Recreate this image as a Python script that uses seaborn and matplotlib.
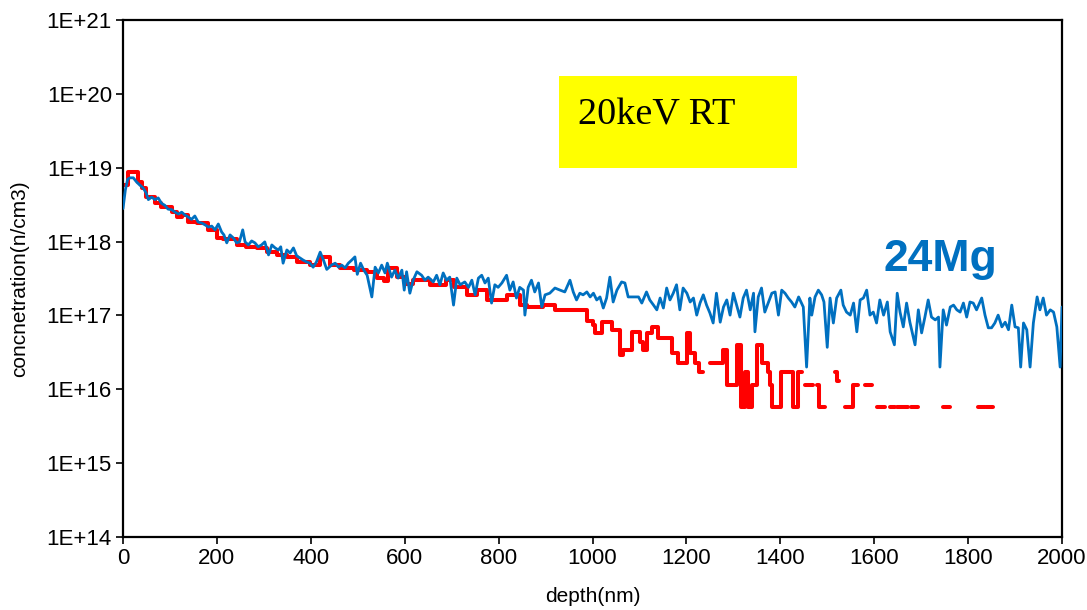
import numpy as np
import pandas as pd
import matplotlib
matplotlib.use("Agg")
import matplotlib.pyplot as plt
from matplotlib.patches import Rectangle
from matplotlib.ticker import FixedLocator, FixedFormatter, NullLocator
import seaborn as sns

# ---------------- data ----------------
blue_depth = [
    0, 5, 10, 15, 22, 29, 36, 43, 49, 54,
    61, 68, 75, 82, 89, 96, 104, 111, 118, 125,
    132, 139, 146, 153, 160, 168, 175, 182, 189, 196,
    203, 210, 215, 221, 228, 235, 242, 248, 255, 260,
    267, 274, 281, 288, 295, 302, 310, 317, 324, 331,
    336, 341, 349, 356, 363, 370, 377, 384, 391, 398,
    405, 412, 420, 427, 434, 444, 452, 459, 466, 473,
    480, 487, 494, 499, 506, 513, 520, 530, 537, 544,
    551, 558, 563, 572, 579, 586, 594, 599, 604, 611,
    618, 626, 636, 643, 650, 661, 668, 675, 682, 689,
    696, 704, 711, 718, 728, 736, 743, 750, 757, 764,
    771, 778, 785, 792, 799, 807, 817, 824, 831, 838,
    845, 853, 856, 863, 870, 877, 885, 892, 899, 909,
    920, 931, 941, 952, 959, 966, 973, 980, 988, 995,
    1002, 1009, 1016, 1023, 1030, 1037, 1044, 1052, 1062, 1069,
    1076, 1087, 1098, 1105, 1115, 1122, 1130, 1137, 1144, 1151,
    1158, 1165, 1172, 1179, 1186, 1193, 1201, 1208, 1215, 1222,
    1229, 1236, 1243, 1250, 1257, 1264, 1272, 1279, 1286, 1293,
    1300, 1307, 1314, 1321, 1328, 1336, 1343, 1346, 1353, 1360,
    1367, 1375, 1382, 1389, 1396, 1403, 1410, 1417, 1424, 1431,
    1439, 1449, 1456, 1463, 1467, 1474, 1481, 1488, 1493, 1500,
    1506, 1513, 1520, 1529, 1534, 1541, 1549, 1556, 1563, 1570,
    1577, 1584, 1591, 1598, 1605, 1612, 1620, 1628, 1634, 1643,
    1649, 1655, 1662, 1669, 1676, 1687, 1694, 1701, 1708, 1715,
    1722, 1730, 1737, 1740, 1747, 1754, 1762, 1769, 1776, 1783,
    1790, 1797, 1804, 1811, 1818, 1829, 1836, 1843, 1850, 1857,
    1864, 1872, 1879, 1886, 1893, 1900, 1907, 1912, 1918, 1925,
    1932, 1939, 1947, 1953, 1960, 1967, 1975, 1982, 1989, 1996,
    2000,
]
blue_conc = [
    2.8e18, 5.0e18, 7.0e18, 7.3e18, 7.3e18, 6.4e18, 5.8e18, 5.3e18, 4.6e18, 3.7e18,
    4.0e18, 3.7e18, 3.9e18, 3.3e18, 3.1e18, 2.75e18, 2.7e18, 2.5e18, 2.36e18, 2.5e18,
    2.29e18, 2.15e18, 2.0e18, 2.22e18, 1.84e18, 1.78e18, 1.68e18, 1.57e18, 1.62e18, 1.44e18,
    1.73e18, 1.35e18, 1.23e18, 9.6e17, 1.23e18, 1.12e18, 9.6e17, 9.9e17, 1.44e18, 9.9e17,
    9.0e17, 1.02e18, 9.6e17, 8.5e17, 9.0e17, 9.9e17, 6.6e17, 9.0e17, 8.2e17, 7.7e17,
    8.5e17, 5.1e17, 7.7e17, 7.0e17, 8.2e17, 6.4e17, 6.0e17, 5.6e17, 5.3e17, 5.1e17,
    4.5e17, 5.3e17, 7.2e17, 5.6e17, 4.2e17, 4.8e17, 5.1e17, 4.5e17, 4.8e17, 4.4e17,
    5.1e17, 5.6e17, 6.2e17, 3.6e17, 5.1e17, 4.1e17, 3.5e17, 1.78e17, 4.5e17, 3.76e17,
    4.8e17, 3.76e17, 5.1e17, 3.3e17, 4.1e17, 3.2e17, 4.1e17, 2.2e17, 3.9e17, 2.0e17,
    3.0e17, 3.9e17, 3.5e17, 3.0e17, 3.3e17, 2.84e17, 3.5e17, 2.6e17, 3.76e17, 3.0e17,
    3.3e17, 1.38e17, 3.2e17, 2.6e17, 2.84e17, 2.4e17, 3.0e17, 1.9e17, 3.2e17, 3.5e17,
    2.75e17, 3.2e17, 1.47e17, 2.6e17, 2.4e17, 2.75e17, 3.5e17, 2.2e17, 2.84e17, 1.72e17,
    2.4e17, 2.2e17, 1.01e17, 2.4e17, 3.0e17, 2.08e17, 2.75e17, 1.3e17, 1.9e17, 2.0e17,
    2.35e17, 2.2e17, 2.08e17, 3.0e17, 2.08e17, 1.62e17, 2.0e17, 1.9e17, 2.08e17, 1.78e17,
    2.0e17, 1.62e17, 1.78e17, 1.26e17, 1.72e17, 3.3e17, 1.52e17, 2.2e17, 2.84e17, 2.75e17,
    1.78e17, 1.78e17, 1.78e17, 1.47e17, 2.08e17, 1.62e17, 1.38e17, 1.19e17, 1.72e17, 1.26e17,
    2.35e17, 1.62e17, 2.0e17, 2.6e17, 1.19e17, 2.35e17, 2.0e17, 1.52e17, 1.72e17, 1.01e17,
    1.47e17, 1.9e17, 1.38e17, 1.08e17, 7.9e16, 2.0e17, 8.1e16, 1.3e17, 1.62e17, 1.01e17,
    2.0e17, 1.38e17, 9.5e16, 1.72e17, 2.2e17, 1.19e17, 2.0e17, 6.0e16, 1.78e17, 2.35e17,
    1.11e17, 1.52e17, 2.0e17, 2.08e17, 1.01e17, 2.2e17, 2.0e17, 1.72e17, 1.52e17, 1.3e17,
    1.78e17, 1.3e17, 2.0e16, 1.72e17, 1.01e17, 1.78e17, 2.2e17, 1.9e17, 1.52e17, 3.7e16,
    1.72e17, 7.9e16, 1.72e17, 2.2e17, 1.38e17, 1.11e17, 1.01e17, 1.47e17, 6.0e16, 1.62e17,
    1.72e17, 2.2e17, 1.01e17, 1.11e17, 7.9e16, 1.62e17, 1.01e17, 1.52e17, 6.0e16, 4.0e16,
    2.0e17, 1.11e17, 7.0e16, 1.47e17, 8.1e16, 4.0e16, 1.19e17, 5.8e16, 9.5e16, 1.62e17,
    9.5e16, 8.7e16, 9.5e16, 2.0e16, 1.19e17, 7.4e16, 1.3e17, 1.38e17, 1.19e17, 1.11e17,
    1.47e17, 9.5e16, 1.52e17, 1.47e17, 1.19e17, 1.72e17, 1.01e17, 6.8e16, 6.8e16, 7.9e16,
    1.01e17, 7.0e16, 8.1e16, 6.4e16, 1.38e17, 7.0e16, 6.8e16, 2.0e16, 7.9e16, 6.4e16,
    2.0e16, 7.9e16, 1.78e17, 1.19e17, 1.72e17, 1.01e17, 1.19e17, 1.11e17, 7.0e16, 2.0e16,
    1.3e17,
]

# red profile: start depth of each step and its level (nan = no counts -> gap)
nan = float("nan")
red_depth = [
    0, 11, 33, 40, 50, 68, 82, 104, 114, 125,
    139, 157, 182, 200, 214, 242, 263, 285, 306, 327,
    349, 370, 398, 420, 441, 462, 491, 519, 540, 555,
    565, 583, 600, 618, 653, 689, 704, 732, 753, 775,
    817, 846, 860, 895, 920, 973, 988, 1000, 1005, 1020,
    1042, 1059, 1065, 1084, 1101, 1107, 1116, 1127, 1140, 1169,
    1182, 1201, 1208, 1218, 1226, 1235, 1250, 1278, 1287, 1308,
    1316, 1325, 1331, 1340, 1350, 1361, 1374, 1378, 1382, 1401,
    1427, 1438, 1446, 1453, 1470, 1478, 1483, 1495, 1516, 1521,
    1525, 1538, 1555, 1565, 1580, 1595, 1606, 1623, 1634, 1644,
    1648, 1672, 1678, 1693, 1747, 1761, 1821, 1835, 1838, 1853,
]
red_conc = [
    5.8e18, 8.75e18, 6.4e18, 5.3e18, 4.0e18, 3.3e18, 2.94e18, 2.5e18, 2.15e18, 2.29e18,
    1.84e18, 1.78e18, 1.44e18, 1.12e18, 1.1e18, 9.0e17, 8.5e17, 8.2e17, 7.2e17, 6.6e17,
    6.2e17, 5.3e17, 4.8e17, 6.2e17, 4.8e17, 4.4e17, 4.1e17, 3.9e17, 3.2e17, 2.9e17,
    4.4e17, 3.3e17, 2.7e17, 3.0e17, 2.6e17, 3.0e17, 2.4e17, 1.9e17, 2.2e17, 1.62e17,
    1.9e17, 1.38e17, 1.3e17, 1.38e17, 1.2e17, 1.19e17, 8.5e16, 7.4e16, 5.8e16, 8.1e16,
    6.4e16, 2.9e16, 3.4e16, 6.0e16, 4.4e16, 3.4e16, 5.8e16, 7.0e16, 5.0e16, 3.1e16,
    2.3e16, 5.8e16, 3.1e16, 2.3e16, 1.72e16, nan, 2.3e16, 3.4e16, 1.15e16, 4.0e16,
    5.75e15, 1.72e16, 5.75e15, 1.15e16, 4.0e16, 2.3e16, 1.72e16, 1.15e16, 5.75e15, 1.72e16,
    5.75e15, 1.72e16, nan, 1.15e16, nan, 1.15e16, 5.75e15, nan, 1.72e16, 1.3e16,
    nan, 5.75e15, 1.15e16, nan, 1.15e16, nan, 5.75e15, nan, 5.75e15, nan,
    5.75e15, nan, 5.75e15, nan, 5.75e15, nan, 5.75e15, nan, 5.75e15, nan,
]

y_exponents = [14, 15, 16, 17, 18, 19, 20, 21]
x_ticks = [0, 200, 400, 600, 800, 1000, 1200, 1400, 1600, 1800, 2000]

assert len(blue_depth) == len(blue_conc)
assert len(red_depth) == len(red_conc)

# ---------------- build step segments for the red trace ----------------
rows = []
seg = 0
run = []
for d, c in zip(red_depth, red_conc):
    if np.isnan(c):
        if run:
            rows.extend(run)
            rows.append((d, run[-1][1], seg))
            seg += 1
            run = []
    else:
        run.append((d, c, seg))
if run:
    rows.extend(run)
red_df = pd.DataFrame(rows, columns=["depth", "conc", "seg"])
blue_df = pd.DataFrame({"depth": blue_depth, "conc": blue_conc})

# ---------------- figure ----------------
sns.set_theme(style="ticks")
plt.rcParams["font.family"] = ["Liberation Sans", "DejaVu Sans"]

W, H = 1087, 610
fig = plt.figure(figsize=(W / 100, H / 100), dpi=100)
L, R, T, B = 123, 1062, 20, 537
ax = fig.add_axes([L / W, 1 - B / H, (R - L) / W, (B - T) / H])
ax.set_yscale("log")

sns.lineplot(data=red_df, x="depth", y="conc", units="seg", estimator=None,
             color="#FF0000", linewidth=2.9, drawstyle="steps-post",
             legend=False, ax=ax, zorder=2)
sns.lineplot(data=blue_df, x="depth", y="conc", estimator=None, sort=False,
             color="#0070C0", linewidth=2.0, legend=False, ax=ax, zorder=3)

ax.set_xlim(0, 2000)
ax.set_ylim(1e14, 1e21)
ax.yaxis.set_major_locator(FixedLocator([10.0 ** e for e in y_exponents]))
ax.yaxis.set_major_formatter(FixedFormatter([f"1E+{e}" for e in y_exponents]))
ax.yaxis.set_minor_locator(NullLocator())
ax.set_xticks(x_ticks)
ax.set_xticklabels([str(t) for t in x_ticks])

for s in ax.spines.values():
    s.set_visible(True)
    s.set_color("black")
    s.set_linewidth(1.6)
ax.tick_params(axis="both", which="major", direction="out", length=5, width=1.2,
               colors="black", labelsize=16, pad=3)

ax.set_xlabel("depth(nm)", fontsize=15, color="black", va="center")
ax.set_ylabel("concnetration(n/cm3)", fontsize=15, color="black", va="center")
ax.xaxis.set_label_coords(0.5, (B - 596) / (B - T))
ax.yaxis.set_label_coords((20 - L) / (R - L), 0.5)

# yellow annotation box
ax.add_patch(Rectangle(((559 - L) / (R - L), (B - 167.5) / (B - T)),
                       238 / (R - L), 92 / (B - T), transform=ax.transAxes,
                       facecolor="#FFFF00", edgecolor="none", zorder=4))
ax.text((578 - L) / (R - L), (B - 115) / (B - T), "20keV RT", transform=ax.transAxes,
        ha="left", va="center", fontsize=27.5, family=["Liberation Serif", "DejaVu Serif"],
        color="black", zorder=5)
ax.text((940 - L) / (R - L), (B - 259) / (B - T), "24Mg", transform=ax.transAxes,
        ha="center", va="center", fontsize=32, fontweight="bold", color="#0070C0", zorder=5)

fig.savefig("out.png", dpi=100)
